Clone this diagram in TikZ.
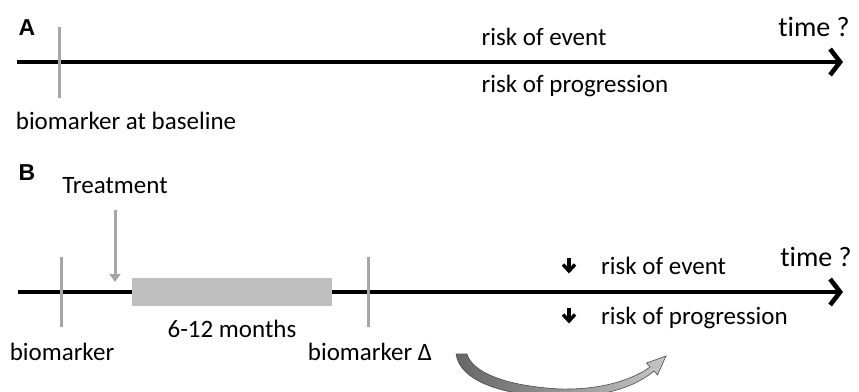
\documentclass[tikz,border=0pt]{standalone}
\usepackage{fontspec}
\setmainfont{Carlito}[Ligatures=NoCommon]
\newfontfamily\labfont{Liberation Sans}
\usetikzlibrary{arrows.meta,calc}
\begin{document}
\begin{tikzpicture}[x=1pt,y=-1pt,
  txt/.style={inner sep=0pt,font=\fontsize{25}{28}\selectfont},
  big/.style={inner sep=0pt,font=\fontsize{28}{32}\selectfont},
  lab/.style={inner sep=0pt,font=\labfont\bfseries\fontsize{23}{26}\selectfont},
  axis/.style={line width=4.6pt,-{Straight Barb[length=10pt,width=26pt,line width=4.6pt]}},
  tick/.style={line width=3pt,draw=tickgray},
  down/.style={line width=3.4pt,line cap=butt,line join=miter}]
\definecolor{tickgray}{HTML}{A6A6A6}
\definecolor{boxgray}{HTML}{BFBFBF}
\useasboundingbox (0,0) rectangle (859,391);
% Panel A
\node[lab] (A) at (27,28) {A};
\coordinate (a0) at (17,62);
\coordinate (a1) at (843,62);
\draw[axis] (a0) -- (a1);
\coordinate (ta0) at (59,27);
\coordinate (ta1) at (59,98);
\draw[tick] (ta0) -- (ta1);
\node[txt] (bab) at (126,121) {biomarker at baseline};
\node[txt] (rea) at (544,37) {risk of event};
\node[txt] (rpa) at (575,86) {risk of progression};
\node[big] (tia) at (814,27) {time ?};
% Panel B
\node[lab] (B) at (27,173) {B};
\node[txt] (treat) at (115,186) {Treatment};
\coordinate (b0) at (18,292);
\coordinate (b1) at (843,292);
\draw[axis] (b0) -- (b1);
\node[draw=none,fill=boxgray,minimum width=200pt,minimum height=28pt,inner sep=0pt] (box) at (232,292) {};
\coordinate (tr0) at (115,210);
\coordinate (tr1) at (115,282);
\draw[line width=3pt,draw=tickgray,-{Triangle[length=8pt,width=11pt]}] (tr0) -- (tr1);
\coordinate (tb0) at (61,257);
\coordinate (tb1) at (61,327);
\draw[tick] (tb0) -- (tb1);
\coordinate (tc0) at (368,257);
\coordinate (tc1) at (368,327);
\draw[tick] (tc0) -- (tc1);
\node[txt] (months) at (232,329) {6-12 months};
\node[txt] (bm) at (62,352) {biomarker};
\node[txt] (bmd) at (370,352) {biomarker Δ};
% down arrows
\coordinate (d1a) at (569,258);
\coordinate (d1b) at (569,271);
\draw[down] (d1a) -- (d1b);
\draw[down] ($(d1b)+(-6,-6.5)$) -- (d1b) -- ($(d1b)+(6,-6.5)$);
\coordinate (d2a) at (569,308);
\coordinate (d2b) at (569,321);
\draw[down] (d2a) -- (d2b);
\draw[down] ($(d2b)+(-6,-6.5)$) -- (d2b) -- ($(d2b)+(6,-6.5)$);
\node[txt,anchor=west] (reb) at (601,266) {risk of event};
\node[txt,anchor=west] (rpb) at (601,318) {risk of progression};
\node[big] (tib) at (816,257) {time ?};
% curved arrow
\begin{scope}
\clip (0,0) rectangle (859,391);
\shade[left color=gray!80!black,right color=gray!45,draw=gray!60!black,line width=0.6pt]
  (456,354) -- (467,354) .. controls (472,372) and (505,386) .. (560,389)
  .. controls (605,390) and (635,378) .. (650,367)
  -- (646.5,363) -- (666,356) -- (657.5,375) -- (654,371)
  .. controls (635,387) and (605,397) .. (560,397)
  .. controls (505,396) and (460,382) .. (456,354) -- cycle;
\end{scope}
\end{tikzpicture}
\end{document}
